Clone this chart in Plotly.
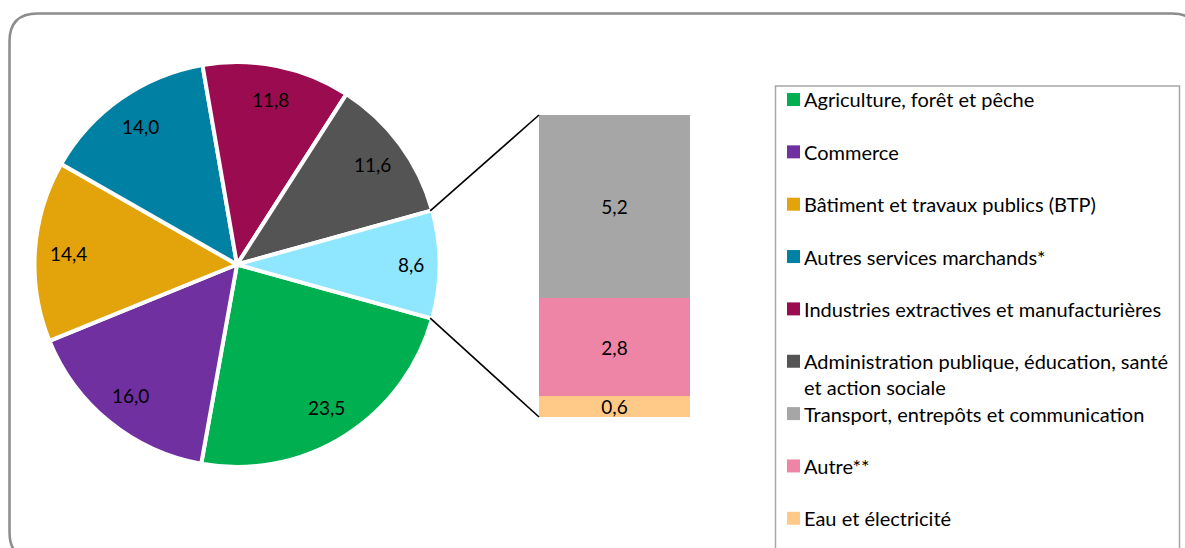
import math
import plotly.graph_objects as go

# ---------------- data ----------------
pie_labels = [
    "Agriculture, forêt et pêche",
    "Commerce",
    "Bâtiment et travaux publics (BTP)",
    "Autres services marchands*",
    "Industries extractives et manufacturières",
    "Administration publique, éducation, santé<br>et action sociale",
]
pie_values = [23.5, 16.0, 14.4, 14.0, 11.8, 11.6]
pie_colors = ["#00B050", "#7030A0", "#E2A40A", "#0081A3", "#9B0B4F", "#545454"]

other_color = "#8FE6FF"

bar_labels = ["Transport, entrepôts et communication", "Autre**", "Eau et électricité"]
bar_values = [5.2, 2.8, 0.6]
bar_colors = ["#A6A6A6", "#EE85A6", "#FFCA87"]

# ---------------- geometry helpers ----------------
W, H = 1185, 548
FONT = "Lato"
FS = 19
FS_LEG = 20


def px(x):
    return x / W


def py(y):
    return 1 - y / H


def fmt(v):
    return f"{v:.1f}".replace(".", ",")


other_value = round(sum(bar_values), 1)
all_values = pie_values + [other_value]
all_colors = pie_colors + [other_color]
total = sum(all_values)

# pie placement (pixels)
cx, cy, r = 237.0, 264.5, 200.5
line_w = 4
half_other = other_value / total * 180.0
rotation = 90 + half_other  # first slice starts just below the "other" slice

# bar placement (pixels)
bar_x0, bar_x1 = 539.0, 690.0
bar_top, bar_bot = 115.0, 417.0

fig = go.Figure()

fig.add_trace(go.Pie(
    values=all_values,
    labels=[l.replace("<br>", " ") for l in pie_labels] + ["Autres"],
    marker=dict(colors=all_colors, line=dict(color="white", width=line_w)),
    sort=False,
    direction="clockwise",
    rotation=rotation,
    textinfo="none",
    hoverinfo="label+value",
    showlegend=False,
    domain=dict(
        x=[px(cx - r - line_w / 2), px(cx + r + line_w / 2)],
        y=[py(cy + r + line_w / 2), py(cy - r - line_w / 2)],
    ),
))

# stacked bar (bottom to top: Eau, Autre, Transport)
for lab, val, col in reversed(list(zip(bar_labels, bar_values, bar_colors))):
    fig.add_trace(go.Bar(
        x=[0], y=[val], name=lab,
        marker=dict(color=col, line=dict(width=0)),
        text=[fmt(val)], textposition="inside", insidetextanchor="middle",
        textangle=0, constraintext="none",
        textfont=dict(family=FONT, size=FS, color="black"),
        showlegend=False, width=1,
        xaxis="x", yaxis="y",
    ))

annotations = []
shapes = []

# pie labels
cum = 0.0
for v in all_values:
    mid = rotation + (cum + v / 2) / total * 360.0
    a = math.radians(mid)
    k = 0.84 if v != other_value else 0.87
    lx = cx + k * r * math.sin(a)
    ly = cy - k * r * math.cos(a)
    annotations.append(dict(
        x=px(lx), y=py(ly), xref="paper", yref="paper",
        text=fmt(v), showarrow=False, xanchor="center", yanchor="middle",
        font=dict(family=FONT, size=FS, color="black"),
    ))
    cum += v

# connector lines from the "other" slice edges to the bar corners
for sgn, by in ((-1, bar_top), (1, bar_bot)):
    a = math.radians(sgn * half_other)
    sx = cx + r * math.cos(a)
    sy = cy + r * math.sin(a)
    shapes.append(dict(
        type="line", xref="paper", yref="paper",
        x0=px(sx), y0=py(sy), x1=px(bar_x0), y1=py(by),
        line=dict(color="black", width=1.6),
    ))

# outer rounded frame
fl, ft, fr, fb, rad = 9.5, 13.5, 1200.0, 560.0, 28.0
path = (
    f"M {px(fl)},{py(fb - rad)} L {px(fl)},{py(ft + rad)} "
    f"Q {px(fl)},{py(ft)} {px(fl + rad)},{py(ft)} "
    f"L {px(fr - rad)},{py(ft)} Q {px(fr)},{py(ft)} {px(fr)},{py(ft + rad)} "
    f"L {px(fr)},{py(fb - rad)} Q {px(fr)},{py(fb)} {px(fr - rad)},{py(fb)} "
    f"L {px(fl + rad)},{py(fb)} Q {px(fl)},{py(fb)} {px(fl)},{py(fb - rad)} Z"
)
shapes.append(dict(type="path", xref="paper", yref="paper", path=path,
                   line=dict(color="#8C8C8C", width=2.5), fillcolor="rgba(0,0,0,0)",
                   layer="above"))

# legend box
shapes.append(dict(type="rect", xref="paper", yref="paper",
                   x0=px(775.5), x1=px(1179.5), y0=py(86), y1=py(600),
                   line=dict(color="#A6A6A6", width=1.5), fillcolor="rgba(0,0,0,0)"))

# legend items
legend_labels = pie_labels + bar_labels
legend_colors = pie_colors + bar_colors
y0, step = 99.5, 52.35
for i, (lab, col) in enumerate(zip(legend_labels, legend_colors)):
    yc = y0 + i * step
    shapes.append(dict(type="rect", xref="paper", yref="paper",
                       x0=px(787), x1=px(800), y0=py(yc + 6.5), y1=py(yc - 6.5),
                       line=dict(width=0), fillcolor=col))
    for j, line in enumerate(lab.split("<br>")):
        annotations.append(dict(
            x=px(802), y=py(yc + j * 25.5), xref="paper", yref="paper",
            text=line, showarrow=False, xanchor="left", yanchor="middle",
            font=dict(family=FONT, size=FS_LEG, color="black"),
        ))

fig.update_layout(
    width=W, height=H,
    margin=dict(l=0, r=0, t=0, b=0),
    paper_bgcolor="white", plot_bgcolor="rgba(0,0,0,0)",
    barmode="stack", bargap=0,
    showlegend=False,
    xaxis=dict(domain=[px(bar_x0), px(bar_x1)], range=[-0.5, 0.5], visible=False, fixedrange=True),
    yaxis=dict(domain=[py(bar_bot), py(bar_top)], range=[0, other_value], visible=False, fixedrange=True),
    annotations=annotations,
    shapes=shapes,
    font=dict(family=FONT, size=FS, color="black"),
)

fig.write_html("out.html", config={"displayModeBar": False},
               post_script="document.body.style.margin='0';")
